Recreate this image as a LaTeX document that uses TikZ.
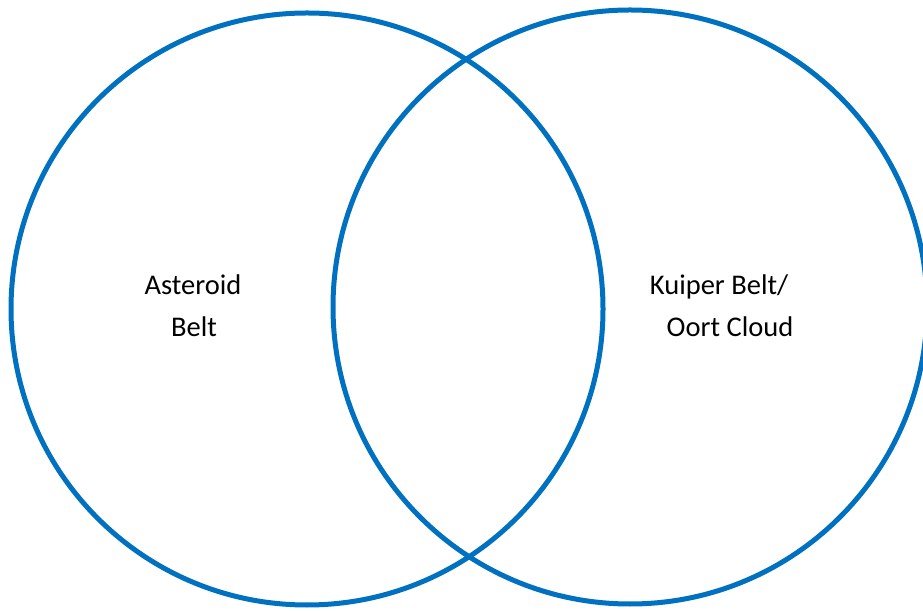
\documentclass[tikz,border=0pt]{standalone}
\usepackage{fontspec}
\setmainfont{Carlito}
\definecolor{vennblue}{HTML}{0070C0}
\begin{document}
\begin{tikzpicture}[x=1pt,y=1pt,
  ring/.style={draw=vennblue,line width=5pt},
  lbl/.style={anchor=base,inner sep=0pt,font=\fontsize{28.5}{34}\selectfont}]
\useasboundingbox (0,0) rectangle (923,610);
\draw[ring] (307,301) circle[radius=296] coordinate (leftc);
\draw[ring] (630,303) circle[radius=297] coordinate (rightc);
\node[lbl] (a1) at (193,315) {Asteroid};
\node[lbl] (a2) at (194,273) {Belt};
\node[lbl] (k1) at (719,315) {Kuiper Belt/};
\node[lbl] (k2) at (730,273) {Oort Cloud};
\end{tikzpicture}
\end{document}
